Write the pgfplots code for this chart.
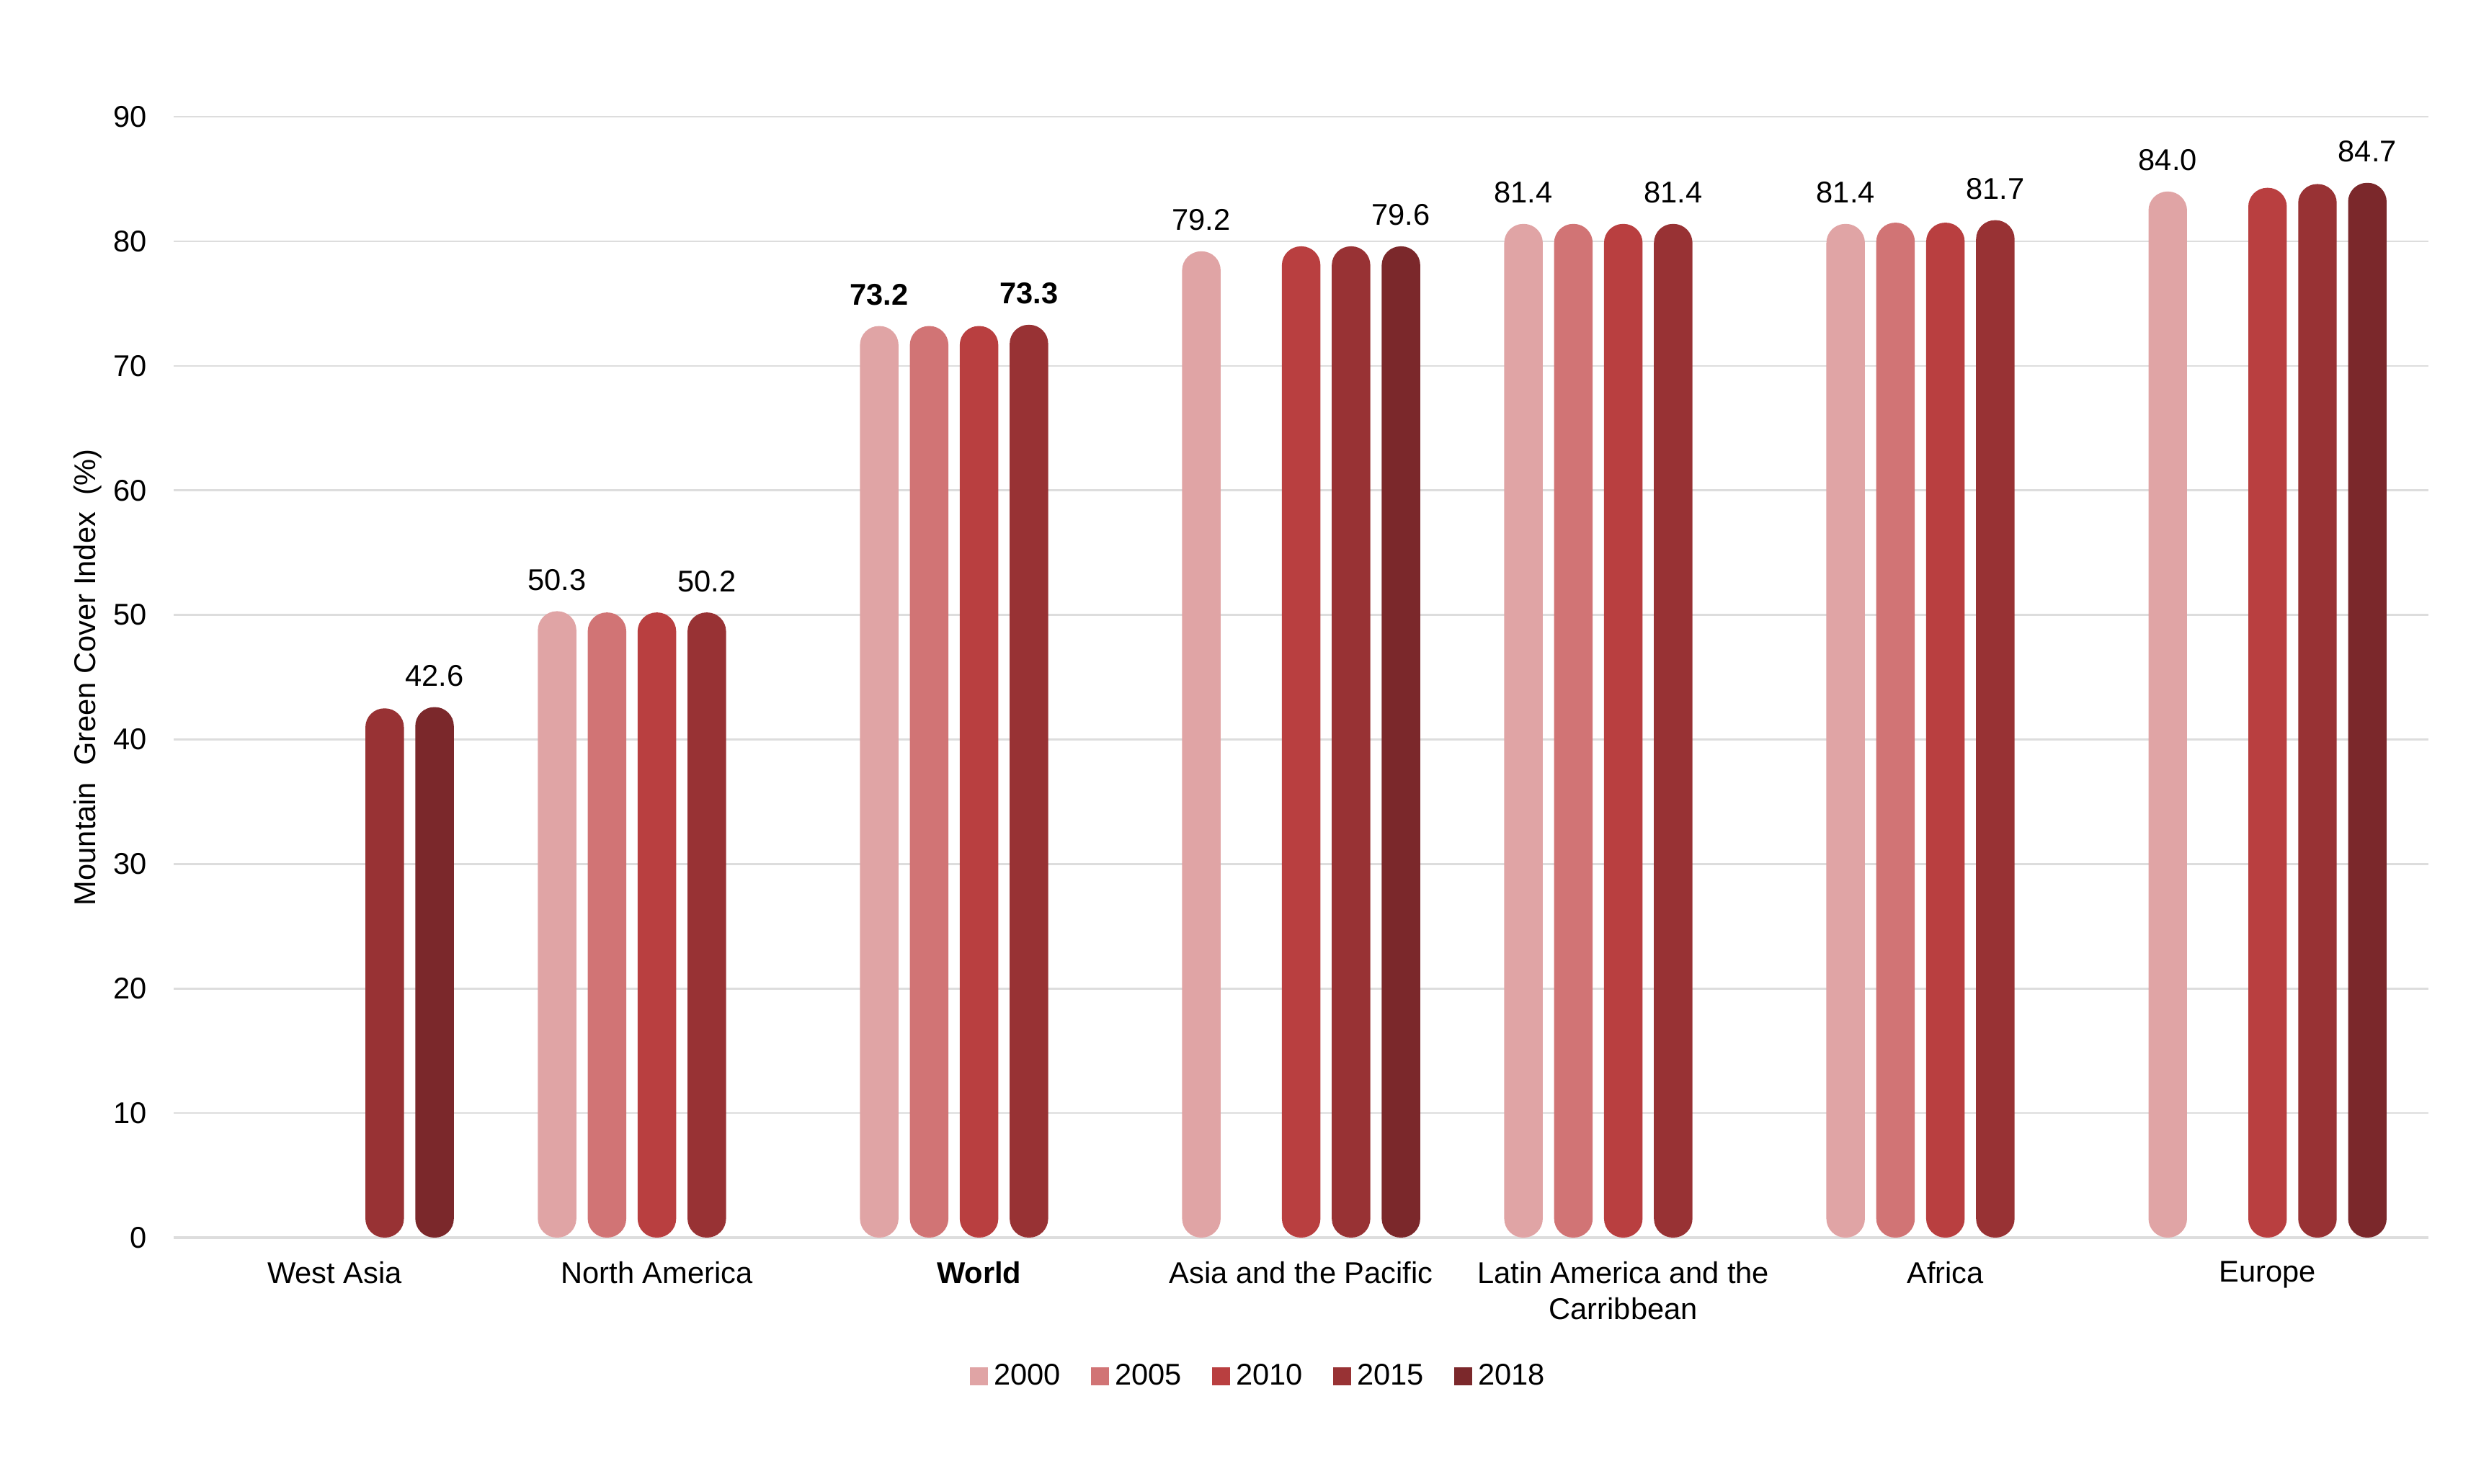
\documentclass[border=0pt]{standalone}
\usepackage{fontspec}
\setmainfont{Liberation Sans}
\usepackage{pgfplots}
\pgfplotsset{compat=1.18}
\definecolor{cA}{HTML}{E0A4A5}
\definecolor{cB}{HTML}{D17475}
\definecolor{cC}{HTML}{B93F40}
\definecolor{cD}{HTML}{983234}
\definecolor{cE}{HTML}{7B282B}
\definecolor{gridc}{HTML}{DDDDDD}
\begin{document}
\begin{tikzpicture}
\path[use as bounding box] (-55pt,-78pt) rectangle (729pt,392pt);
\begin{axis}[
  at={(0pt,0pt)}, anchor=south west,
  scale only axis, width=714pt, height=355pt,
  xmin=-0.5, xmax=6.5, ymin=0, ymax=90,
  ybar=3.6pt, bar width=12.2pt,
  axis x line*=bottom, axis y line*=left,
  x axis line style={draw=gridc, line width=0.8pt, -},
  y axis line style={draw=none},
  ymajorgrids, grid style={draw=gridc, line width=0.6pt},
  ytick={0,10,...,90},
  xtick={0,...,6}, major tick length=0pt,
  xticklabels={West Asia, North America, \textbf{World}, Asia and the Pacific, Latin America and the\\Carribbean, Africa, Europe},
  xticklabel style={align=center, font=\fontsize{9.5}{11.5}\selectfont, yshift=-4pt},
  /pgf/number format/assume math mode=true,
  tick label style={font=\fontsize{9.5}{11.5}\selectfont},
  yticklabel style={xshift=-5pt},
  ylabel={Mountain\ \ Green Cover Index\ \ (\%)},
  ylabel style={font=\fontsize{9.5}{11.5}\selectfont, at={(axis description cs:-0.027,0.5)}},
  point meta=explicit symbolic,
  nodes near coords,
  every node near coord/.append style={font=\fontsize{9.5}{11.5}\selectfont, text=black, yshift=3pt},
  every axis plot/.append style={draw=none, rounded corners=6pt},
  legend columns=5,
  legend style={draw=none, at={(0.482,-0.124)}, anchor=center, font=\fontsize{9.5}{11.5}\selectfont,
    /tikz/every even column/.append style={column sep=7.5pt}},
  legend image code/.code={\fill[#1, sharp corners] (0pt,-2.85pt) rectangle (5.7pt,2.85pt);},
]
\addplot[fill=cA] coordinates {(1,50.3)[50.3] (2,73.2)[\textbf{73.2}] (3,79.2)[79.2] (4,81.4)[81.4] (5,81.4)[81.4] (6,84.0)[84.0]};
\addplot[fill=cB] coordinates {(1,50.2)[] (2,73.2)[] (4,81.4)[] (5,81.5)[]};
\addplot[fill=cC] coordinates {(1,50.2)[] (2,73.2)[] (3,79.6)[] (4,81.4)[] (5,81.5)[] (6,84.3)[]};
\addplot[fill=cD] coordinates {(0,42.5)[] (1,50.2)[50.2] (2,73.3)[\textbf{73.3}] (3,79.6)[] (4,81.4)[81.4] (5,81.7)[81.7] (6,84.6)[]};
\addplot[fill=cE] coordinates {(0,42.6)[42.6] (3,79.6)[79.6] (6,84.7)[84.7]};
\legend{2000,2005,2010,2015,2018}
\end{axis}
\end{tikzpicture}
\end{document}
